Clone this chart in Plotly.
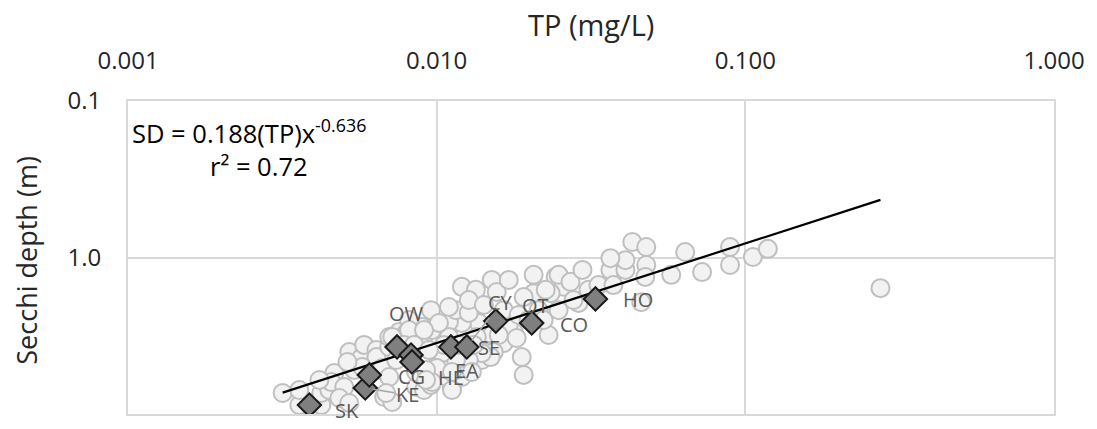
import numpy as np
import plotly.graph_objects as go

# ---- Data ----
tp_all = [0.00317, 0.00359, 0.00423, 0.00359, 0.00423, 0.00449, 0.00466, 0.00456, 0.00502, 0.00484,
          0.00521, 0.00533, 0.00521, 0.00569, 0.00582, 0.00638, 0.00638, 0.00702, 0.00702, 0.00756,
          0.00858, 0.00924, 0.00541, 0.00574, 0.00514, 0.00651, 0.00666, 0.00702, 0.00676, 0.00718,
          0.00740, 0.00686, 0.00858, 0.00910, 0.00858, 0.00958, 0.00995, 0.01121, 0.01079, 0.01207,
          0.01271, 0.01401, 0.01475, 0.01475, 0.01370, 0.01207, 0.01096, 0.00995, 0.00897, 0.00958,
          0.00814, 0.00877, 0.00797, 0.00718, 0.01096, 0.01207, 0.01340, 0.01155, 0.01271, 0.01509,
          0.01565, 0.01096, 0.00814, 0.02061, 0.02430, 0.02577, 0.02340, 0.02061, 0.01914, 0.01777,
          0.01649, 0.01531, 0.01886, 0.01914, 0.02305, 0.01497, 0.00966, 0.01017, 0.00910, 0.01349,
          0.01401, 0.01271, 0.01155, 0.01040, 0.01002, 0.01121, 0.01300, 0.00966, 0.01121, 0.00924,
          0.00924, 0.01712, 0.01816, 0.02256, 0.02483, 0.02714, 0.02967, 0.02881, 0.03655, 0.04089,
          0.04089, 0.04303, 0.04775, 0.04775, 0.06386, 0.05754, 0.07242, 0.08920, 0.08920, 0.10580,
          0.11830, 0.04600, 0.27400, 0.00785, 0.00845, 0.01056, 0.00944, 0.01180, 0.01319, 0.01589,
          0.01649, 0.01844, 0.02140, 0.01986, 0.02221, 0.02483, 0.02775, 0.03103, 0.03343, 0.03738,
          0.04740, 0.01712, 0.01271, 0.01422, 0.00417, 0.03655]
sd_all = [7.34, 8.76, 8.76, 7.03, 7.34, 7.03, 5.47, 6.25, 6.72, 7.90,
          8.50, 4.33, 4.02, 4.39, 3.62, 3.90, 4.33, 3.73, 3.22, 2.99,
          2.82, 3.04, 5.23, 5.01, 4.65, 5.23, 5.08, 5.80, 7.79, 8.38,
          4.52, 7.34, 6.72, 7.03, 5.39, 6.52, 5.01, 6.72, 5.80, 5.80,
          5.01, 4.52, 4.02, 3.04, 2.62, 2.62, 2.58, 2.70, 2.78, 2.17,
          2.51, 3.22, 3.04, 3.22, 3.22, 1.54, 1.61, 2.17, 2.26, 1.39,
          1.66, 2.07, 2.91, 1.29, 1.33, 1.54, 1.69, 1.69, 1.79, 2.99,
          3.52, 4.02, 4.33, 5.63, 3.13, 4.33, 2.91, 2.62, 2.91, 3.22,
          4.08, 4.52, 4.52, 4.08, 5.08, 5.39, 5.39, 6.25, 7.03, 5.23,
          6.06, 2.70, 3.27, 1.61, 1.29, 1.43, 1.20, 1.95, 1.20, 1.20,
          1.04, 0.796, 0.857, 1.117, 0.923, 1.29, 1.24, 0.857, 1.117, 0.993,
          0.88, 1.93, 1.57, 3.62, 3.62, 3.62, 3.90, 3.62, 3.62, 3.13,
          2.17, 2.33, 2.17, 2.51, 2.51, 2.17, 1.87, 1.61, 1.50, 1.50,
          1.33, 1.39, 1.87, 2.01, 6.06, 1.01]

lake_names = ["SK", "KE", "CG", "OW", "HE", "EA", "SE", "CY", "OT", "CO", "HO"]
tp_lakes = [0.00387, 0.00587, 0.00605, 0.00744, 0.00826, 0.00832, 0.01112, 0.01252, 0.01554, 0.02032, 0.03269]
sd_lakes = [8.76, 6.82, 5.63, 3.73, 4.20, 4.65, 3.73, 3.73, 2.55, 2.62, 1.84]

# label offsets in pixels (style only); leader = draw a grey leader line
label_dx = [38, 42, 42, 9, 40, 55, 38, 34, 40, 42, 43]
label_dy = [-5, -7, -2, 33, -22, -9, -1, 44, 16, -2, -1]
label_leader = [False, True, False, False, False, False, False, True, False, False, False]

fit_a = 0.188
fit_b = -0.636
r2 = 0.72

x_ticks = [0.001, 0.01, 0.1, 1.0]
x_ticktext = ["0.001", "0.010", "0.100", "1.000"]
y_ticks = [0.1, 1.0, 10.0]
y_ticktext = ["0.1", "1.0", "10.0"]

FONT = "Open Sans"
GRID = "#d9d9d9"

fig = go.Figure()

fig.add_trace(go.Scatter(
    x=tp_all, y=sd_all, mode="markers",
    marker=dict(symbol="circle", size=18, color="#f2f2f2",
                line=dict(color="#bfbfbf", width=2)),
    showlegend=False, hoverinfo="skip"))

all_tp = np.array(tp_all + tp_lakes)
x_fit = np.geomspace(all_tp.min(), all_tp.max(), 100)
y_fit = fit_a * x_fit ** fit_b
fig.add_trace(go.Scatter(x=x_fit, y=y_fit, mode="lines",
                         line=dict(color="black", width=2.2),
                         showlegend=False, hoverinfo="skip"))

fig.add_trace(go.Scatter(
    x=tp_lakes, y=sd_lakes, mode="markers",
    marker=dict(symbol="diamond", size=18, color="#7f7f7f",
                line=dict(color="#1a1a1a", width=2)),
    showlegend=False, hoverinfo="skip"))

for name, tp, sd, dx, dy, lead in zip(lake_names, tp_lakes, sd_lakes,
                                      label_dx, label_dy, label_leader):
    if lead:
        fig.add_annotation(x=np.log10(tp), y=np.log10(sd), xref="x", yref="y",
                           text=name, showarrow=True, ax=dx, ay=-dy,
                           arrowhead=0, arrowwidth=1.5, arrowcolor="#a6a6a6",
                           standoff=8,
                           font=dict(family=FONT, size=20, color="#595959"))
    else:
        fig.add_annotation(x=np.log10(tp), y=np.log10(sd), xref="x", yref="y",
                           text=name, showarrow=False, xshift=dx, yshift=dy,
                           font=dict(family=FONT, size=20, color="#595959"))

fig.add_annotation(xref="paper", yref="paper", x=0.131, y=0.902,
                   text=f"SD = {fit_a}(TP)x<sup>{fit_b}</sup>", showarrow=False,
                   xanchor="center", yanchor="middle",
                   font=dict(family=FONT, size=25.5, color="black"))
fig.add_annotation(xref="paper", yref="paper", x=0.142, y=0.793,
                   text=f"r² = {r2}", showarrow=False,
                   xanchor="center", yanchor="middle",
                   font=dict(family=FONT, size=25.5, color="black"))

# axis titles
fig.add_annotation(xref="paper", yref="paper", x=0.5, y=1.246,
                   text="TP (mg/L)", showarrow=False, xanchor="center", yanchor="middle",
                   font=dict(family=FONT, size=29, color="#262626"))
fig.add_annotation(xref="paper", yref="paper", x=-0.109, y=0.49,
                   text="Secchi depth (m)", showarrow=False, textangle=-90,
                   xanchor="center", yanchor="middle",
                   font=dict(family=FONT, size=27, color="#262626"))

fig.update_xaxes(type="log", range=[-3, 0], side="top",
                 tickvals=x_ticks, ticktext=x_ticktext,
                 showgrid=True, gridcolor=GRID, gridwidth=2,
                 showline=True, linecolor=GRID, linewidth=2, mirror=True,
                 ticks="", ticklabelstandoff=20, zeroline=False,
                 tickfont=dict(family=FONT, size=24, color="#262626"))
fig.update_yaxes(type="log", range=[1, -1],
                 tickvals=y_ticks, ticktext=y_ticktext,
                 showgrid=True, gridcolor=GRID, gridwidth=2,
                 showline=True, linecolor=GRID, linewidth=2, mirror=True,
                 ticks="", ticklabelstandoff=20, zeroline=False,
                 tickfont=dict(family=FONT, size=24, color="#262626"))

fig.update_layout(width=1097, height=429,
                  margin=dict(l=128, r=40, t=101, b=15),
                  plot_bgcolor="white", paper_bgcolor="white",
                  showlegend=False)

fig.write_html("out.html")
